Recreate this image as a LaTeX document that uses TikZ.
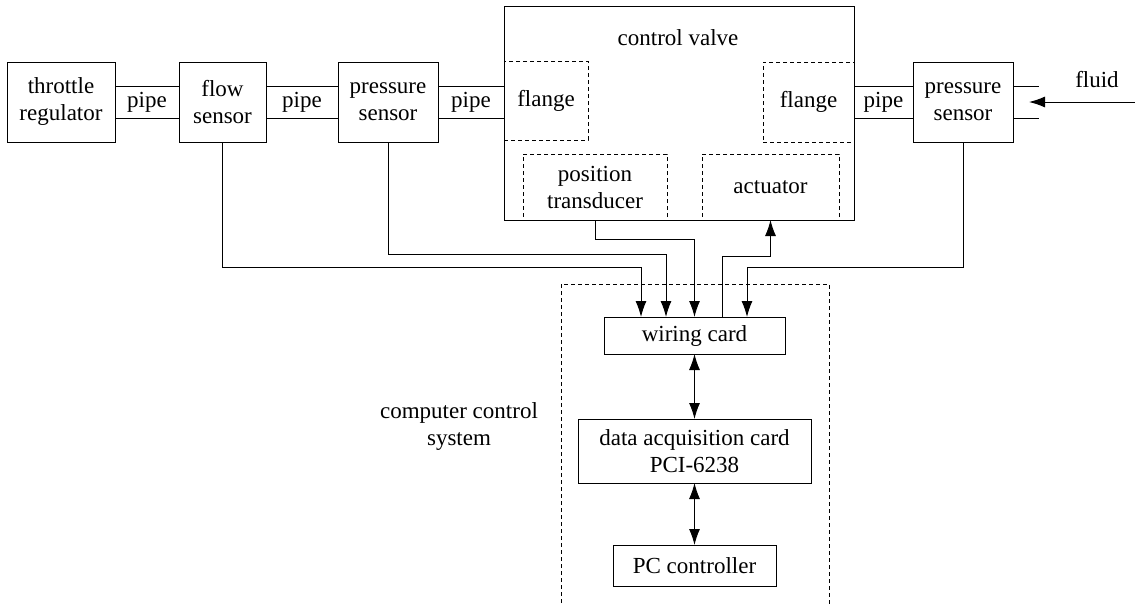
\documentclass[tikz,border=0pt]{standalone}
\usepackage{fontspec}
\setmainfont{Liberation Serif}
\usetikzlibrary{arrows.meta,calc}
\begin{document}
\begin{tikzpicture}[x=1pt,y=1pt,
  every node/.style={font=\fontsize{23}{27}\selectfont},
  box/.style={draw,line width=1pt,inner sep=0pt,outer sep=0pt,align=center},
  dbox/.style={box,dash pattern=on 4pt off 3pt},
  wire/.style={line width=1pt},
  arr/.style={wire,-{Latex[length=16pt,width=11pt]}},
  darr/.style={wire,{Latex[length=16pt,width=11pt]}-{Latex[length=16pt,width=11pt]}},
  lbl/.style={inner sep=0pt,align=center}]
\useasboundingbox (0,0) rectangle (1135,-605);
\clip (0,0) rectangle (1135,-605);

% components inside the control valve
\node[dbox,minimum width=84pt,minimum height=79pt] (flL) at (546,-100.5) {flange};
\node[dbox,minimum width=91pt,minimum height=80pt] (flR) at (808.5,-102) {flange};
\node[dbox,minimum width=144pt,minimum height=66pt] (pt) at (595,-187) {position\\transducer};
\node[dbox,minimum width=137pt,minimum height=66pt] (act) at (770.5,-187) {actuator};
\node[box,minimum width=350pt,minimum height=214pt] (cv) at (679,-113) {};
\node[lbl] (cvl) at (678,-38) {control valve};

% line of pipe components
\node[box,minimum width=108pt,minimum height=80pt] (thr) at (61,-102) {throttle\\regulator};
\node[box,minimum width=87pt,minimum height=80pt] (flow) at (222.5,-102) {flow\\sensor};
\node[box,minimum width=100pt,minimum height=80pt] (ps1) at (388,-102) {pressure\\sensor};
\node[box,minimum width=100pt,minimum height=80pt] (ps2) at (963,-102) {pressure\\sensor};

% pipes
\foreach \a/\b/\n in {thr/flow/p1,flow/ps1/p2} {
  \draw[wire] ([yshift=16pt]\a.east) -- ([yshift=16pt]\b.west);
  \draw[wire] ([yshift=-16pt]\a.east) -- ([yshift=-16pt]\b.west);
  \node[lbl] (\n) at ($(\a.east)!0.5!(\b.west)$) {pipe};
}
\draw[wire] ([yshift=16pt]ps1.east) -- ([yshift=16pt]ps1.east -| cv.west);
\draw[wire] ([yshift=-16pt]ps1.east) -- ([yshift=-16pt]ps1.east -| cv.west);
\node[lbl] (p3) at ($(ps1.east)!0.5!(ps1.east -| cv.west)$) {pipe};
\draw[wire] ([yshift=16pt]ps2.west -| cv.east) -- ([yshift=16pt]ps2.west);
\draw[wire] ([yshift=-16pt]ps2.west -| cv.east) -- ([yshift=-16pt]ps2.west);
\node[lbl] (p4) at ($(ps2.west -| cv.east)!0.5!(ps2.west)$) {pipe};

% inlet
\draw[wire] ([yshift=16pt]ps2.east) -- ++(26,0);
\draw[wire] ([yshift=-16pt]ps2.east) -- ++(26,0);
\coordinate (fsrc) at (1136,-102);
\draw[arr] (fsrc) -- ([xshift=16pt]ps2.east);
\node[lbl] (fl) at (1097,-80) {fluid};

% computer control system
\draw[wire,dash pattern=on 4pt off 3pt] (561,-610) -- (561,-284) -- (829,-284) -- (829,-610);
\node[lbl] (ccs) at (459,-426) {computer control\\system};
\node[box,minimum width=181pt,minimum height=37pt] (wc) at (694.5,-335.5) {wiring card};
\node[box,minimum width=233pt,minimum height=64pt] (daq) at (694.5,-451) {data acquisition card\\PCI-6238};
\node[box,minimum width=163pt,minimum height=41pt] (pc) at (694.5,-565.5) {PC controller};

% signal wiring
\draw[arr] (flow.south) |- ([xshift=-53.5pt,yshift=50pt]wc.north) -- ([xshift=-53.5pt]wc.north);
\draw[arr] (ps1.south) |- ([xshift=-28.5pt,yshift=63pt]wc.north) -- ([xshift=-28.5pt]wc.north);
\draw[arr] (pt.south) |- ([yshift=78pt]wc.north) -- (wc.north);
\draw[arr] ([xshift=27.5pt]wc.north) |- ([yshift=-36pt]act.south) -- (act.south);
\draw[arr] (ps2.south) |- ([xshift=52.5pt,yshift=50pt]wc.north) -- ([xshift=52.5pt]wc.north);
\draw[darr] (wc.south) -- (daq.north);
\draw[darr] (daq.south) -- (pc.north);
\end{tikzpicture}
\end{document}
